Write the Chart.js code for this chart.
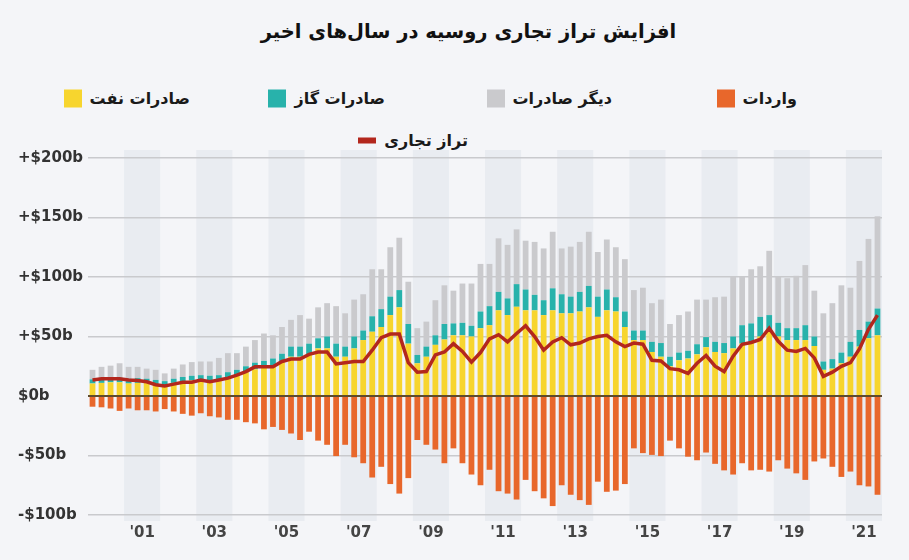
<!DOCTYPE html>
<html lang="fa">
<head>
<meta charset="utf-8">
<title>تراز تجاری روسیه</title>
<script src="https://cdn.jsdelivr.net/npm/chart.js@4.4.1/dist/chart.umd.min.js"></script>
<style>
    html, body { margin: 0; padding: 0; background: #f4f5f8; }
    body { width: 909px; height: 560px; position: relative; overflow: hidden; font-family: "DejaVu Sans", sans-serif; }
    #title { position: absolute; top: 20px; left: 14px; width: 909px; text-align: center; direction: rtl;
             font-weight: bold; font-size: 19.5px; color: #111; }
    .legend-item { position: absolute; display: flex; align-items: center; gap: 8px; direction: rtl;
                   font-weight: bold; font-size: 16px; color: #1a1a1a; white-space: nowrap; transform: translateY(-50%); }
    .legend-item .swatch { width: 18px; height: 18px; }
    .legend-item .swatch.dash { height: 6px; }
    #chart { position: absolute; left: 0; top: 0; }
</style>
</head>
<body>
<div id="title">افزایش تراز تجاری روسیه در سال‌های اخیر</div>
<div id="legend"></div>
<canvas id="chart" width="909" height="560"></canvas>
<script>
// ========== DATA ==========
const startYear = 2000;
const endYear = 2022;

// quarterly categories, 2000 Q1 .. 2021 Q4
const quarters = [];
for (let y = startYear; y < endYear; y++) {
    for (let q = 1; q <= 4; q++) quarters.push(`${y} Q${q}`);
}

// $ billions per quarter (one row = one year)
const oilExports = [
    10.5, 11, 11.5, 11.5,   10.5, 11, 11, 10,   9, 11, 12.5, 13,   13.5, 13, 13.5, 15.5,
    17, 20, 22.5, 24,   25.5, 29, 33, 33,   35, 40, 40, 33,   33, 40, 47, 54,
    58, 68, 74.5, 44,   27.5, 33, 43, 47.5,   51, 51, 50, 57,   59.5, 72, 68, 75,
    72, 72, 68, 72,   69.5, 69.5, 71, 74.5,   66.5, 72, 71, 58,   47, 47, 37, 33,
    25, 30, 31.5, 35,   41, 37, 36, 40,   44, 45.5, 50, 54,   50, 47, 47, 47,
    42, 22, 23, 27.5,   33, 41.5, 48.5, 51
];
const gasExports = [
    3.5, 3.5, 3.5, 4,   4, 4, 3.5, 3.5,   3.5, 3.5, 3.5, 4,   4, 4, 4, 4.5,
    5, 5, 5.5, 5.5,   6, 6.5, 8.5, 8.5,   9, 8.5, 10, 11,   8.5, 10, 8, 13,
    15, 15.5, 14.5, 16.5,   7, 8.5, 8, 13,   10, 10.5, 9, 14,   16, 15.5, 14, 19,
    17.5, 13, 12.5, 18.5,   16, 14, 16.5, 18,   17, 17.5, 12, 13,   8, 8, 8.5, 11.5,
    8, 6.5, 6.5, 8.5,   8.5, 8.5, 8.5, 10,   15.5, 15.5, 16.5, 14,   11.5, 10, 10, 12.5,
    8, 7, 8, 9,   12.5, 14, 14, 22.5
];
const otherExports = [
    8, 10, 10.5, 12,   10, 9.5, 8.5, 8.5,   6.5, 8.5, 10.5, 11.5,   11.5, 12, 14.5, 16,
    14, 16.5, 19, 23,   19.5, 22.5, 22.5, 26.5,   21, 26, 28, 31.5,   28, 31, 30.5, 39.5,
    33.5, 41.5, 44, 35.5,   22.5, 21, 29.5, 32.5,   27.5, 33, 35.5, 40,   35.5, 45, 45, 46,
    41, 44.5, 43.5, 47.5,   38.5, 42, 42, 45.5,   37.5, 42, 42, 44,   34, 36, 32.5, 36.5,
    27.5, 31.5, 33, 37.5,   31.5, 37.5, 39, 50,   40.5, 45.5, 42.5, 54,   38.5, 42, 44, 50.5,
    38.5, 40.5, 47, 56.5,   45.5, 58, 69.5, 77.5
];
const imports = [
    -9, -9.5, -10.5, -12.5,   -10.5, -12, -12, -13,   -11, -13, -15, -16.5,   -14.5, -17, -18, -20,
    -20, -22, -23, -28,   -26, -28.5, -31.5, -37,   -30, -37.5, -41, -50.5,   -41, -51.5, -56.5, -68.5,
    -59.5, -74, -82, -69,   -37, -41, -45, -56.5,   -44, -56.5, -66, -75,   -62, -80, -82, -87,
    -70.5, -80, -86, -92.5,   -75, -83, -87.5, -91.5,   -72, -80.5, -79.5, -74,   -44, -48, -49.5, -50.5,
    -37.5, -44, -51, -54,   -47.5, -57, -62.5, -66,   -56.5, -62.5, -62, -63.5,   -54, -61, -65, -70.5,
    -55, -52.5, -59.5, -68,   -63.5, -75, -76, -83
];
const tradeBalance = [
    13.5, 14.5, 14.5, 14.5,   13.5, 13, 12, 9.5,   8.5, 10, 11.5, 11.5,   13.5, 12, 13.5, 15,
    17.5, 20.5, 24.5, 24.5,   24.5, 29, 31, 31,   35, 37, 37, 27,   28, 29, 29, 38.5,
    49, 52, 52, 28,   20, 20.5, 34.5, 37,   44, 37.5, 28.5, 36.5,   48, 51.5, 45.5, 52.5,
    59, 50, 38.5, 45.5,   49, 43, 44.5, 48,   50, 51, 45.5, 41.5,   44.5, 43.5, 30, 29.5,
    23, 22, 19, 27.5,   34, 25, 20.5, 33.5,   43.5, 45, 47.5, 57,   46, 38.5, 37.5, 40,
    32, 16.5, 20, 25,   28, 39.5, 56, 68
];

// axis ticks
const yTicks = [-100, -50, 0, 50, 100, 150, 200];
const yTickLabels = ['-$100b', '-$50b', '$0b', '+$50b', '+$100b', '+$150b', '+$200b'];
const tickYears = [2001, 2003, 2005, 2007, 2009, 2011, 2013, 2015, 2017, 2019, 2021];
const tickLabels = ["'01", "'03", "'05", "'07", "'09", "'11", "'13", "'15", "'17", "'19", "'21"];

// legend text
const seriesNames = {
    oil: 'صادرات نفت',
    gas: 'صادرات گاز',
    other: 'دیگر صادرات',
    imports: 'واردات',
    balance: 'تراز تجاری'
};

// ========== STYLE ==========
const colors = {
    oil: '#f7d52e',
    gas: '#28b2ab',
    other: '#cacacd',
    imports: '#e8672b',
    balance: '#b3271d',
    grid: '#c9cacd',
    zero: '#5f4b2c',
    band: '#e9ecf1',
    tick: '#333'
};

// legend slots: right edge of each item (px) and row
const legendSlots = [
    { key: 'imports', right: 797, top: 98 },
    { key: 'other',   right: 612, top: 98 },
    { key: 'gas',     right: 385, top: 98 },
    { key: 'oil',     right: 190, top: 98 },
    { key: 'balance', right: 468, top: 140 }
];

// ========== HELPERS ==========
const xOf = i => startYear + (i + 0.5) / 4;
const points = arr => arr.map((v, i) => ({ x: xOf(i), y: v }));

const yearBands = {
    id: 'yearBands',
    beforeDraw(chart) {
        const { ctx, chartArea, scales } = chart;
        ctx.save();
        ctx.fillStyle = colors.band;
        tickYears.forEach(y => {
            const x0 = scales.x.getPixelForValue(y);
            const x1 = scales.x.getPixelForValue(y + 1);
            ctx.fillRect(x0, chartArea.top - 8, x1 - x0, chartArea.bottom - chartArea.top + 14);
        });
        ctx.restore();
    }
};

const zeroLine = {
    id: 'zeroLine',
    afterDatasetsDraw(chart) {
        const { ctx, chartArea, scales } = chart;
        const y = Math.round(scales.y.getPixelForValue(0));
        ctx.save();
        ctx.strokeStyle = colors.zero;
        ctx.lineWidth = 2;
        ctx.beginPath();
        ctx.moveTo(chartArea.left, y);
        ctx.lineTo(chartArea.right, y);
        ctx.stroke();
        ctx.restore();
    }
};

function barSet(key, data) {
    return {
        type: 'bar',
        label: seriesNames[key],
        data: points(data),
        backgroundColor: colors[key],
        stack: 'trade',
        order: 1,
        barPercentage: 0.64,
        categoryPercentage: 1
    };
}

// ========== LEGEND ==========
function renderLegend() {
    const box = document.getElementById('legend');
    box.innerHTML = legendSlots.map(s => `
        <div class="legend-item" style="right:${909 - s.right}px; top:${s.top}px;">
            <span>${seriesNames[s.key]}</span>
            <span class="swatch${s.key === 'balance' ? ' dash' : ''}" style="background:${colors[s.key]}"></span>
        </div>`).join('');
}

// ========== CHART ==========
function renderChart() {
    const ctx = document.getElementById('chart').getContext('2d');
    new Chart(ctx, {
        data: {
            datasets: [
                {
                    type: 'line',
                    label: seriesNames.balance,
                    data: points(tradeBalance),
                    borderColor: colors.balance,
                    borderWidth: 3.5,
                    pointRadius: 0,
                    tension: 0,
                    stack: 'balance',
                    order: 0
                },
                barSet('oil', oilExports),
                barSet('gas', gasExports),
                barSet('other', otherExports),
                barSet('imports', imports)
            ]
        },
        options: {
            responsive: false,
            animation: false,
            devicePixelRatio: 1,
            layout: { padding: { top: 158, left: 18, right: 27, bottom: 0 } },
            plugins: {
                legend: { display: false },
                tooltip: { enabled: false }
            },
            scales: {
                x: {
                    type: 'linear',
                    min: startYear,
                    max: endYear,
                    offset: false,
                    stacked: true,
                    grid: { display: false, offset: false },
                    border: { display: false },
                    afterBuildTicks: scale => {
                        scale.ticks = tickYears.map(y => ({ value: y + 0.5 }));
                    },
                    afterFit: scale => { scale.height = 45; },
                    ticks: {
                        autoSkip: false,
                        maxRotation: 0,
                        padding: 1,
                        color: '#444',
                        font: { family: 'DejaVu Sans', size: 15, weight: 'bold' },
                        callback: v => tickLabels[tickYears.indexOf(Math.floor(v))]
                    }
                },
                y: {
                    min: yTicks[0],
                    max: yTicks[yTicks.length - 1],
                    stacked: true,
                    grid: { color: colors.grid, lineWidth: 1.5, drawTicks: false },
                    border: { display: false },
                    afterBuildTicks: scale => {
                        scale.ticks = yTicks.map(v => ({ value: v }));
                    },
                    afterFit: scale => { scale.width = 70; },
                    ticks: {
                        crossAlign: 'far',
                        padding: 0,
                        color: colors.tick,
                        font: { family: 'DejaVu Sans', size: 15, weight: 'bold' },
                        callback: v => yTickLabels[yTicks.indexOf(v)]
                    }
                }
            }
        },
        plugins: [yearBands, zeroLine]
    });
}

renderLegend();
renderChart();
</script>
</body>
</html>
